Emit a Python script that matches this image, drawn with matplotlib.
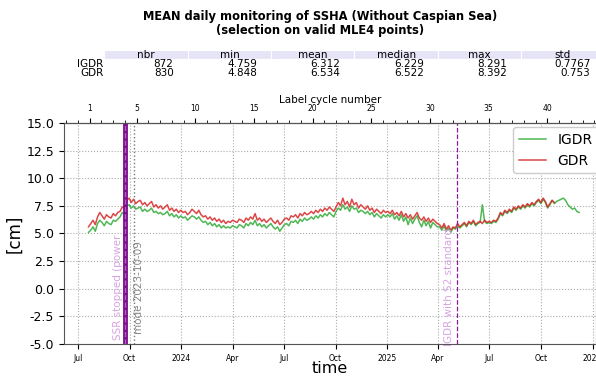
import matplotlib
matplotlib.use('Agg')
import matplotlib.pyplot as plt
import matplotlib.dates as mdates
from matplotlib.ticker import MultipleLocator, FuncFormatter, FixedLocator
import numpy as np
import pandas as pd

# ---------------- data ----------------
start_date = '2023-07-20'
step = '4D'

gdr = [5.6, 5.9, 6.2, 5.8, 6.5, 6.9, 6.6, 6.3, 6.7, 6.5, 6.4, 6.8, 6.6, 6.9, 7.0, 7.4, 7.3,
       8.0, 8.2, 7.8, 8.1, 7.7, 7.9, 8.0, 7.6, 7.8, 7.5, 7.7, 7.9, 7.4, 7.6, 7.3, 7.5, 7.2, 7.4, 7.6, 7.1, 7.3, 7.0, 7.2, 6.9, 7.1,
       6.9, 7.0, 6.7, 6.9, 7.2, 7.0, 6.8, 7.1, 6.7, 6.5, 6.6, 6.3, 6.5, 6.2, 6.4, 6.1, 6.3, 6.0, 6.2, 5.9, 6.1, 6.0, 6.2,
       6.1, 6.0, 6.3, 6.2, 6.0, 6.4, 6.2, 6.5, 6.3, 6.8, 6.2, 6.4, 6.1, 6.3, 6.0, 6.2, 6.4, 6.1, 5.9, 6.2, 5.8, 6.0, 6.3,
       6.4, 6.2, 6.6, 6.5, 6.7, 6.4, 6.8, 6.6, 6.9, 6.7, 6.8, 7.0, 6.8, 7.1, 6.9, 7.2, 7.0, 7.3, 7.1, 7.4, 7.2, 7.0,
       7.4, 7.8, 7.5, 8.2, 7.6, 7.9, 7.4, 8.1, 7.6, 7.8, 7.3, 7.6, 7.4, 7.2, 7.5, 7.1, 7.3, 6.9, 7.2, 7.0, 6.8, 7.1, 6.9,
       7.0, 6.8, 7.1, 6.7, 6.9, 6.6, 7.0, 6.5, 6.8, 6.4, 6.7, 6.3, 6.6, 6.9, 6.4, 6.2, 6.5, 6.1, 6.4, 6.0, 6.3, 6.1, 5.9,
       5.8, 5.5, 5.9, 5.4, 5.7, 5.3, 5.6, 5.5, 5.9, 5.6, 5.8, 6.0, 5.7, 6.1, 5.9, 6.2, 5.8, 6.0, 6.1, 5.9, 6.2, 6.0, 6.1,
       6.0, 6.2, 6.1, 6.4, 6.9, 6.7, 7.1, 6.9, 7.2, 7.0, 7.4, 7.2, 7.5, 7.3, 7.6, 7.4, 7.7, 7.5, 7.8, 7.6, 7.9, 8.1, 7.8,
       8.2, 7.9, 7.4, 7.7, 8.0, 7.8]

igdr = [5.1, 5.3, 5.6, 5.2, 5.9, 6.2, 6.0, 5.7, 6.1, 5.9, 5.8, 6.2, 6.1, 6.3, 6.5, 6.9, 6.7,
        7.5, 7.6, 7.3, 7.5, 7.2, 7.3, 7.4, 7.0, 7.2, 7.0, 7.1, 7.3, 6.9, 7.0, 6.8, 6.9, 6.7, 6.8, 7.0, 6.6, 6.8, 6.5, 6.7, 6.4, 6.6,
        6.4, 6.5, 6.2, 6.4, 6.6, 6.5, 6.3, 6.5, 6.2, 6.0, 6.1, 5.8, 6.0, 5.7, 5.9, 5.6, 5.8, 5.5, 5.7, 5.5, 5.6, 5.5, 5.7,
        5.6, 5.5, 5.8, 5.7, 5.5, 5.9, 5.7, 6.0, 5.8, 6.2, 5.7, 5.9, 5.6, 5.8, 5.5, 5.7, 5.9, 5.6, 5.4, 5.6, 5.2, 5.5, 5.8,
        5.9, 5.7, 6.1, 6.0, 6.2, 5.9, 6.3, 6.1, 6.4, 6.2, 6.3, 6.5, 6.3, 6.6, 6.4, 6.7, 6.5, 6.8, 6.6, 6.9, 6.7, 6.5,
        7.0, 7.3, 7.1, 7.6, 7.2, 7.4, 7.0, 7.5, 7.2, 7.3, 6.9, 7.1, 7.0, 6.8, 7.0, 6.7, 6.9, 6.5, 6.8, 6.6, 6.4, 6.7, 6.5,
        6.7, 6.5, 6.8, 6.3, 6.6, 6.2, 6.7, 6.1, 6.5, 5.8, 6.4, 5.9, 6.3, 6.6, 6.0, 5.6, 6.2, 5.7, 6.1, 5.5, 6.0, 5.8, 5.6,
        5.6, 5.3, 5.7, 5.2, 5.5, 5.1, 5.5, 5.4, 5.7, 5.5, 5.7, 5.9, 5.6, 6.0, 5.8, 6.1, 5.7, 5.9, 6.0, 7.6, 6.1, 5.9, 6.0,
        5.9, 6.1, 6.0, 6.3, 6.8, 6.6, 7.0, 6.8, 7.1, 6.9, 7.3, 7.1, 7.4, 7.2, 7.5, 7.3, 7.6, 7.4, 7.7, 7.5, 7.8, 8.0, 7.7,
        8.1, 7.8, 7.3, 7.6, 8.0, 7.7, 7.9, 8.0, 8.1, 8.2, 8.0, 7.6, 7.4, 7.2, 7.3, 7.0, 6.9]

table_cols = ['nbr', 'min', 'mean', 'median', 'max', 'std']
table_rows = ['IGDR', 'GDR']
table_vals = [['872', '4.759', '6.312', '6.229', '8.291', '0.7767'],
              ['830', '4.848', '6.534', '6.522', '8.392', '0.753']]

event_dates = ['2023-09-21', '2023-09-23', '2023-09-25', '2023-09-27']
mode_date = '2023-10-09'
s2_date = '2025-05-05'
cycle1_date = '2023-07-22'
cycle_len = 20.86
cycle_ticks = [1, 5, 10, 15, 20, 25, 30, 35, 40]

x_min, x_max = '2023-06-06', '2026-01-07'

# ---------------- plot ----------------
fig = plt.figure(figsize=(5.96, 3.76), dpi=100)
ax = fig.add_axes([0.107, 0.085, 0.893, 0.588])

d_g = pd.date_range(start_date, periods=len(gdr), freq=step)
d_i = pd.date_range(start_date, periods=len(igdr), freq=step)

ax.plot(d_i, igdr, color='#3cb043', lw=1.1, label='IGDR', alpha=0.9)
ax.plot(d_g, gdr, color='#d62728', lw=1.1, label='GDR', alpha=0.85)

for d in event_dates:
    ax.axvline(pd.Timestamp(d), color='#7a0a8a', lw=1.3)
ax.axvline(pd.Timestamp(event_dates[1]), color='#b060c0', lw=1.0, ls='--')
ax.axvline(pd.Timestamp(mode_date), color='#777777', lw=1.0, ls=':')
ax.axvline(pd.Timestamp(s2_date), color='#8b1a9b', lw=0.9, ls='--')

ax.text(pd.Timestamp('2023-09-10'), 0.1, 'SSR stopped (power', rotation=90,
        color='#d9a3e3', fontsize=7.5, ha='center', va='center')
ax.text(pd.Timestamp('2023-10-17'), 0.1, 'mode 2023-10-09', rotation=90,
        color='#888888', fontsize=7.5, ha='center', va='center')
ax.text(pd.Timestamp('2025-04-21'), 0.2, 'IGDR with S2 standard', rotation=90,
        color='#d9a3e3', fontsize=7.5, ha='center', va='center')

ax.set_xlim(pd.Timestamp(x_min), pd.Timestamp(x_max))
ax.set_ylim(-5, 15)
ax.set_yticks(np.arange(-5, 15.01, 2.5))
ax.yaxis.set_major_formatter(FuncFormatter(lambda v, p: f'{v:.1f}'))
ax.tick_params(axis='y', labelsize=9)

ax.xaxis.set_major_locator(mdates.MonthLocator(bymonth=[1, 4, 7, 10]))
ax.xaxis.set_major_formatter(FuncFormatter(
    lambda v, p: (mdates.num2date(v).strftime('%Y') if mdates.num2date(v).month == 1
                  else mdates.num2date(v).strftime('%b'))))
ax.tick_params(axis='x', labelsize=5.5)
ax.set_xlabel('time', fontsize=11.5, labelpad=-1)
ax.set_ylabel('[cm]', fontsize=12, labelpad=2)
ax.grid(True, linestyle=':', color='#aaaaaa', lw=0.8)
for s in ax.spines.values():
    s.set_color('#555555')

c1 = mdates.date2num(pd.Timestamp(cycle1_date))
secax = ax.secondary_xaxis('top', functions=(lambda x: (x - c1) / cycle_len + 1,
                                              lambda c: (c - 1) * cycle_len + c1))
secax.xaxis.set_major_locator(FixedLocator(cycle_ticks))
secax.xaxis.set_minor_locator(MultipleLocator(1))
secax.tick_params(axis='x', labelsize=5.5)
secax.set_xlabel('Label cycle number', fontsize=7.5, labelpad=1)

ax.legend(loc='upper right', fontsize=10, handlelength=2.0, framealpha=1,
          borderaxespad=0.3, bbox_to_anchor=(1.012, 1.0))

fig.text(0.537, 0.937, 'MEAN daily monitoring of SSHA (Without Caspian Sea)\n(selection on valid MLE4 points)',
         ha='center', va='center', fontsize=8.3, fontweight='bold', linespacing=1.1)

cell_text = [[r] + v for r, v in zip(table_rows, table_vals)]
tab = ax.table(cellText=cell_text, colLabels=[''] + table_cols, cellLoc='right',
               colLoc='center', bbox=[0.015, 1.205, 1.001, 0.125],
               colWidths=[32.5] + [83] * 6)
tab.auto_set_font_size(False)
tab.set_fontsize(7.5)
for (r, c), cell in tab.get_celld().items():
    cell.set_edgecolor('white')
    cell.set_linewidth(0.8)
    if r == 0 and c > 0:
        cell.set_facecolor('#e6e4f7')
    cell.PAD = 0.03 if c == 0 else 0.17

fig.savefig('out.png', dpi=100)
